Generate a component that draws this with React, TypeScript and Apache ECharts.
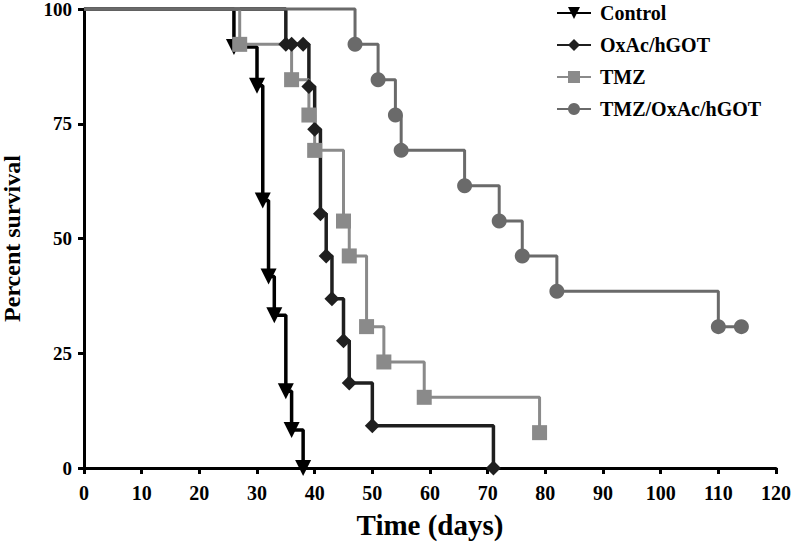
import React, { useEffect, useRef } from "react";
import * as echarts from "echarts";

const seriesNames = ["Control", "OxAc/hGOT", "TMZ", "TMZ/OxAc/hGOT"];

const controlDays = [0, 26, 30, 31, 32, 33, 35, 36, 38];
const controlSurv = [100, 91.7, 83.3, 58.3, 41.7, 33.3, 16.7, 8.3, 0];

const oxacDays = [0, 35, 36, 38, 39, 40, 41, 42, 43, 45, 46, 50, 71];
const oxacSurv = [100, 92.3, 92.3, 92.3, 83.1, 73.8, 55.4, 46.2, 36.9, 27.7, 18.5, 9.2, 0];

const tmzDays = [0, 27, 36, 39, 40, 45, 46, 49, 52, 59, 79];
const tmzSurv = [100, 92.3, 84.6, 76.9, 69.2, 53.8, 46.2, 30.8, 23.1, 15.4, 7.7];

const comboDays = [0, 47, 51, 54, 55, 66, 72, 76, 82, 110, 114];
const comboSurv = [100, 92.3, 84.6, 76.9, 69.2, 61.5, 53.8, 46.2, 38.5, 30.8, 30.8];

const xTicks = { min: 0, max: 120, interval: 10 };
const yTicks = { min: 0, max: 100, interval: 25 };

const FONT = '"Liberation Serif", "Times New Roman", serif';

function toData(days: number[], surv: number[]) {
  return days.map((d, i) =>
    i === 0 ? { value: [d, surv[i]], symbol: "none" } : { value: [d, surv[i]] }
  );
}

export default function App() {
  const ref = useRef<HTMLDivElement>(null);
  useEffect(() => {
    if (!ref.current) return;
    const chart = echarts.init(ref.current, null, { renderer: "svg" });
    const mk = (
      name: string,
      days: number[],
      surv: number[],
      color: string,
      symbol: string,
      size: any,
      lw: number,
      rotate = 0
    ) => ({
      name,
      type: "line",
      step: "end",
      data: toData(days, surv),
      symbol,
      symbolSize: size,
      symbolRotate: rotate,
      showAllSymbol: true,
      clip: false,
      color,
      lineStyle: { color, width: lw },
      itemStyle: { color, borderWidth: 0 },
      emphasis: { disabled: true },
    });
    chart.setOption({
      animation: false,
      backgroundColor: "#ffffff",
      grid: { left: 84, top: 9, right: 17, bottom: 76, outerBoundsMode: "none", containLabel: false },
      legend: {
        data: seriesNames,
        orient: "vertical",
        left: 551,
        top: -2,
        itemWidth: 34,
        itemHeight: 15,
        itemGap: 12,
        textStyle: {
          fontFamily: FONT,
          fontWeight: "bold",
          fontSize: 20,
          color: "#000",
          padding: [0, 0, 0, 4],
        },
      },
      xAxis: {
        type: "value",
        min: xTicks.min,
        max: xTicks.max,
        interval: xTicks.interval,
        name: "Time (days)",
        nameLocation: "middle",
        nameGap: 42,
        nameTextStyle: { fontFamily: FONT, fontWeight: "bold", fontSize: 29, color: "#000" },
        axisLine: { onZero: false, lineStyle: { color: "#000", width: 3 } },
        axisTick: { length: 6, lineStyle: { color: "#000", width: 3 } },
        axisLabel: { margin: 15, fontFamily: FONT, fontWeight: "bold", fontSize: 20, color: "#000" },
        splitLine: { show: false },
      },
      yAxis: {
        type: "value",
        min: yTicks.min,
        max: yTicks.max,
        interval: yTicks.interval,
        name: "Percent survival",
        nameLocation: "middle",
        nameGap: 60,
        nameTextStyle: { fontFamily: FONT, fontWeight: "bold", fontSize: 24, color: "#000" },
        axisLine: { show: true, onZero: false, lineStyle: { color: "#000", width: 3 } },
        axisTick: { show: true, length: 6, lineStyle: { color: "#000", width: 3 } },
        axisLabel: { margin: 12, fontFamily: FONT, fontWeight: "bold", fontSize: 19, color: "#000" },
        splitLine: { show: false },
      },
      series: [
        mk(seriesNames[0], controlDays, controlSurv, "#000000", "triangle", [16, 16], 3.5, 180),
        mk(seriesNames[1], oxacDays, oxacSurv, "#1f1f1f", "diamond", 15, 3.5),
        mk(seriesNames[2], tmzDays, tmzSurv, "#8a8a8a", "rect", 15, 3),
        mk(seriesNames[3], comboDays, comboSurv, "#6a6a6a", "circle", 15, 3),
      ],
    });
    return () => chart.dispose();
  }, []);
  return (
    <div
      ref={ref}
      style={{ position: "fixed", left: 0, top: 0, width: 793, height: 544, background: "#fff" }}
    />
  );
}
